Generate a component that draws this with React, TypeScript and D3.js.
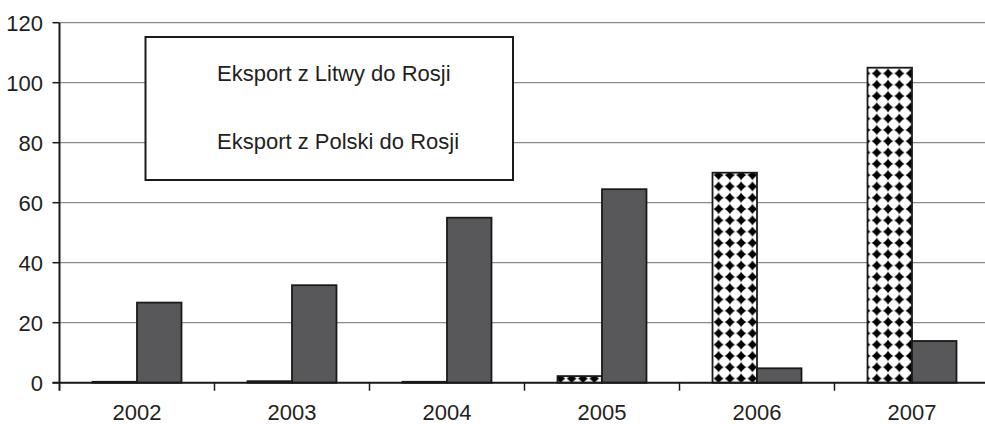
import React from "react";
import * as d3 from "d3";

const years = ["2002", "2003", "2004", "2005", "2006", "2007"];
const seriesNames = ["Eksport z Litwy do Rosji", "Eksport z Polski do Rosji"];
const litwa = [0.3, 0.5, 0.3, 2.2, 70, 105];
const polska = [26.7, 32.5, 55, 64.5, 4.8, 13.9];
const yTicks = [0, 20, 40, 60, 80, 100, 120];

const W = 985;
const H = 424;
const FONT = "'Liberation Sans', Arial, sans-serif";

export default function App() {
  const x = d3.scaleBand<string>().domain(years).range([59.5, 989.5]).paddingInner(0).paddingOuter(0);
  const xs = d3.scaleBand<string>().domain(["litwa", "polska"]).range([0, x.bandwidth()]).paddingInner(0).paddingOuter(0.742);
  const y = d3.scaleLinear().domain([0, 120]).range([382.7, 22.7]);
  const series = [
    { key: "litwa", values: litwa, fill: "url(#diamonds)" },
    { key: "polska", values: polska, fill: "#58585a" },
  ];
  const textColor = "#231f20";
  return (
    <svg width={W} height={H} style={{ position: "absolute", left: 0, top: 0, background: "#fff" }} fontFamily={FONT}>
      <defs>
        <pattern id="diamonds" patternUnits="userSpaceOnUse" width={11.3} height={11.3} x={1} y={0}>
          <rect width={11.3} height={11.3} fill="#fff" />
          <path d="M5.65,0.3 Q6.6,4.7 11,5.65 Q6.6,6.6 5.65,11 Q4.7,6.6 0.3,5.65 Q4.7,4.7 5.65,0.3 Z" fill="#000" />
          <path d="M5.65,1.2 L10.1,5.65 L5.65,10.1 L1.2,5.65 Z" fill="#000" />
        </pattern>
      </defs>
      {yTicks.map((t) => (
        <line key={"g" + t} x1={59.5} x2={W} y1={y(t)} y2={y(t)} stroke="#8a8a8a" strokeWidth={1.3} />
      ))}
      {series.map((s) =>
        years.map((yr, i) => {
          const bx = (x(yr) as number) + (xs(s.key) as number);
          const top = y(s.values[i]);
          return (
            <rect
              key={s.key + yr}
              x={bx}
              y={top}
              width={xs.bandwidth()}
              height={y(0) - top}
              fill={s.fill}
              stroke="#1a1a1a"
              strokeWidth={1.8}
            />
          );
        })
      )}
      {/* y axis */}
      <line x1={59.5} x2={59.5} y1={y(120)} y2={y(0) + 8} stroke="#1a1a1a" strokeWidth={2} />
      {yTicks.map((t) => (
        <g key={"yt" + t}>
          <line x1={52.5} x2={59.5} y1={y(t)} y2={y(t)} stroke="#1a1a1a" strokeWidth={1.5} />
          <text x={43} y={y(t)} dy="0.36em" textAnchor="end" fontSize={22} fill={textColor}>
            {t}
          </text>
        </g>
      ))}
      {/* x axis */}
      <line x1={52.5} x2={W} y1={y(0)} y2={y(0)} stroke="#1a1a1a" strokeWidth={2} />
      {years.map((yr) => (
        <line key={"xt" + yr} x1={(x(yr) as number) + x.bandwidth()} x2={(x(yr) as number) + x.bandwidth()} y1={y(0)} y2={y(0) + 8} stroke="#1a1a1a" strokeWidth={1.5} />
      ))}
      {years.map((yr) => (
        <text key={"xl" + yr} x={(x(yr) as number) + x.bandwidth() / 2} y={420} textAnchor="middle" fontSize={22} fill={textColor}>
          {yr}
        </text>
      ))}
      {/* legend */}
      <rect x={145.5} y={37} width={367.5} height={143} fill="#fff" stroke="#1a1a1a" strokeWidth={2} />
      {seriesNames.map((n, i) => (
        <text key={n} x={217} y={81 + i * 68} fontSize={22} fill={textColor}>
          {n}
        </text>
      ))}
    </svg>
  );
}
